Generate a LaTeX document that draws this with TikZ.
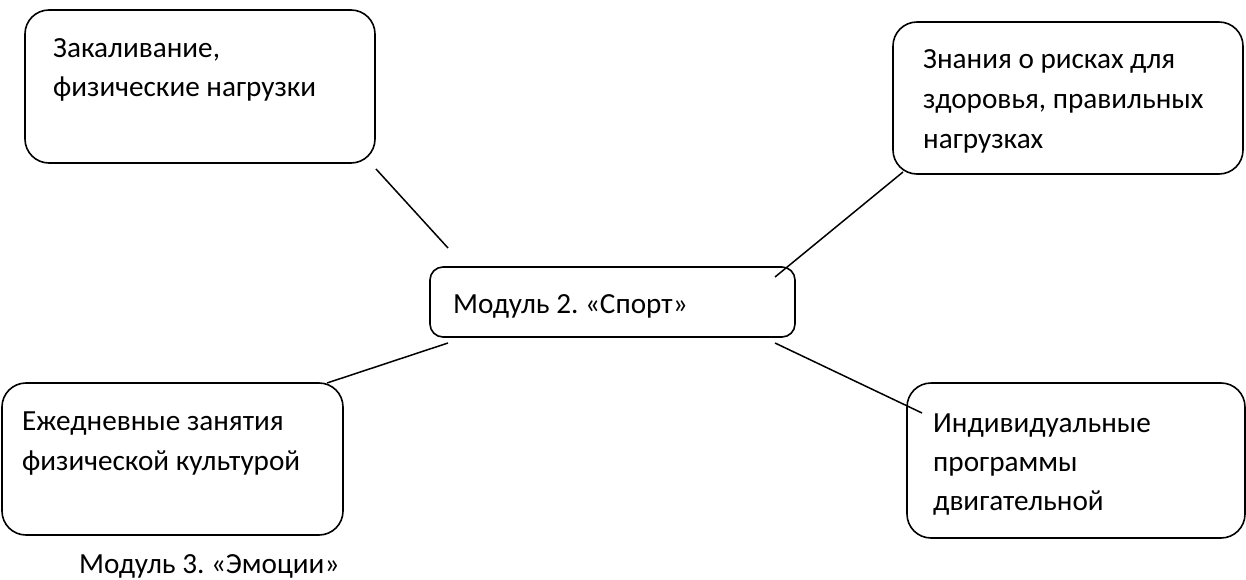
\documentclass[tikz,border=0pt]{standalone}
\usepackage{fontspec}
\setmainfont{Carlito}
\frenchspacing
\begin{document}
\begin{tikzpicture}[x=1pt,y=-1pt,
  box/.style={draw=black, line width=1.6pt, inner sep=0pt},
  txt/.style={inner sep=0pt, anchor=base west, font=\fontsize{29.2}{38}\selectfont},
  conn/.style={draw=black, line width=1.5pt}]
\useasboundingbox (0,0) rectangle (1246,580);
% boxes
\node[box, rounded corners=24pt, minimum width=350pt, minimum height=153pt] (b1) at (200,86.5) {};
\node[box, rounded corners=24pt, minimum width=350pt, minimum height=152pt] (b2) at (1068,98) {};
\node[box, rounded corners=13pt, minimum width=365pt, minimum height=70pt] (c) at (612.5,302) {};
\node[box, rounded corners=24pt, minimum width=341pt, minimum height=152pt] (b3) at (172.5,459) {};
\node[box, rounded corners=24pt, minimum width=338pt, minimum height=155pt] (b4) at (1076,460.5) {};
% texts
\node[txt] (t1a) at (53,58) {Закаливание,};
\node[txt] (t1b) at (53,97) {физические нагрузки};
\node[txt] (t2a) at (923,69) {Знания о рисках для};
\node[txt] (t2b) at (923,109) {здоровья, правильных};
\node[txt] (t2c) at (923,149) {нагрузках};
\node[txt] (tc) at (453,313) {Модуль 2. «Спорт»};
\node[txt] (t3a) at (22,430) {Ежедневные занятия};
\node[txt] (t3b) at (22,470) {физической культурой};
\node[txt] (t4a) at (933,432) {Индивидуальные};
\node[txt] (t4b) at (933,471) {программы};
\node[txt] (t4c) at (933,510) {двигательной};
\node[txt] (tm3) at (79,573) {Модуль 3. «Эмоции»};
% connector ends
\coordinate (p1a) at (376,169); \coordinate (p1b) at (448,248);
\coordinate (p2a) at (775,277); \coordinate (p2b) at (903,172);
\coordinate (p3a) at (327,383); \coordinate (p3b) at (448,343);
\coordinate (p4a) at (775,343); \coordinate (p4b) at (922,413);
\draw[conn] (p1a) -- (p1b);
\draw[conn] (p2a) -- (p2b);
\draw[conn] (p3a) -- (p3b);
\draw[conn] (p4a) -- (p4b);
\end{tikzpicture}
\end{document}
